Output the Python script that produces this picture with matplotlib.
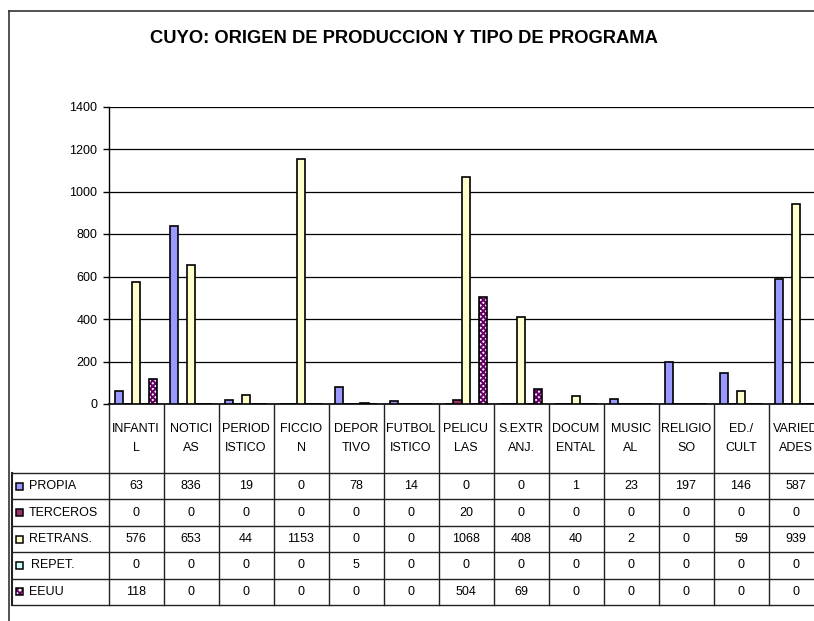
import numpy as np
import matplotlib.pyplot as plt
from matplotlib.patches import Rectangle

plt.rcParams['font.family'] = ['Liberation Sans', 'DejaVu Sans']
plt.rcParams['hatch.linewidth'] = 1.4

# data
categorias = ['INFANTI\nL', 'NOTICI\nAS', 'PERIOD\nISTICO', 'FICCIO\nN', 'DEPOR\nTIVO',
              'FUTBOL\nISTICO', 'PELICU\nLAS', 'S.EXTR\nANJ.', 'DOCUM\nENTAL', 'MUSIC\nAL',
              'RELIGIO\nSO', 'ED./\nCULT', 'VARIED\nADES']
series = ['PROPIA', 'TERCEROS', 'RETRANS.', 'REPET.', 'EEUU']
propia = [63, 836, 19, 0, 78, 14, 0, 0, 1, 23, 197, 146, 587]
terceros = [0, 0, 0, 0, 0, 0, 20, 0, 0, 0, 0, 0, 0]
retrans = [576, 653, 44, 1153, 0, 0, 1068, 408, 40, 2, 0, 59, 939]
repet = [0, 0, 0, 0, 5, 0, 0, 0, 0, 0, 0, 0, 0]
eeuu = [118, 0, 0, 0, 0, 0, 504, 69, 0, 0, 0, 0, 0]
valores = [propia, terceros, retrans, repet, eeuu]
colores = ['#9999FF', '#993366', '#FFFFCC', '#CCFFFF', 'white']

W, H = 814, 621
fig = plt.figure(figsize=(W / 100, H / 100), dpi=100)

def fx(px):
    return px / W

def fy(py):
    return 1 - py / H

# outer frame (only left and top visible)
fig.add_artist(plt.Line2D([fx(8.5), fx(8.5)], [fy(11), 0], color='#333333', lw=1.2))
fig.add_artist(plt.Line2D([fx(8.5), 1], [fy(11), fy(11)], color='#333333', lw=1.2))

fig.text(fx(404), fy(38.5), 'CUYO: ORIGEN DE PRODUCCION Y TIPO DE PROGRAMA',
         ha='center', va='center', fontsize=13.2, fontweight='bold')

# chart
cat_w = 55
x0, ytop, ybot = 108.5, 106.5, 404
ax = fig.add_axes([fx(x0), fy(ybot), fx(cat_w * 13), (ybot - ytop) / H])
n = len(categorias)
x = np.arange(n) + 0.5
bw = 0.153
for i, (vals, c) in enumerate(zip(valores, colores)):
    pos = x + (i - 2) * bw
    if series[i] == 'EEUU':
        ax.bar(pos, vals, bw, color='white', edgecolor='#660066', hatch='xxxxxx', lw=0, zorder=3)
        ax.bar(pos, vals, bw, fill=False, edgecolor='black', lw=1.2, zorder=4)
    else:
        ax.bar(pos, vals, bw, color=c, edgecolor='black', lw=1.2, zorder=3)

ax.set_xlim(0, n)
ax.set_ylim(0, 1400)
ax.set_yticks(np.arange(0, 1401, 200))
ax.yaxis.grid(True, color='black', lw=0.9)
ax.set_axisbelow(True)
ax.set_xticks([])
for s in ['top', 'right']:
    ax.spines[s].set_visible(False)
ax.spines['left'].set_linewidth(1.0)
ax.spines['bottom'].set_linewidth(1.2)
ax.tick_params(axis='y', length=4, width=1, pad=4, labelsize=9)

# data table
row_top = 473
row_h = 26.4
lab_x = 12
tab = fig.add_axes([0, 0, 1, 1])
tab.set_xlim(0, W)
tab.set_ylim(H, 0)
tab.axis('off')
lc = '#222222'
right = x0 + cat_w * n
col_edges = x0 + cat_w * np.arange(n + 1)
bottom = row_top + row_h * len(series)
for xe in col_edges:
    tab.plot([xe, xe], [ybot, bottom], color=lc, lw=1)
tab.plot([lab_x, lab_x], [row_top, bottom], color=lc, lw=1.5)
for r in range(len(series) + 1):
    yy = row_top + r * row_h
    tab.plot([lab_x, right], [yy, yy], color=lc, lw=1)

for j, cat in enumerate(categorias):
    cx = x0 + cat_w * (j + 0.5)
    tab.text(cx, (ybot + row_top) / 2, cat, ha='center', va='center',
             fontsize=9, linespacing=1.8)
    for r, vals in enumerate(valores):
        tab.text(cx, row_top + (r + 0.5) * row_h, str(vals[j]), ha='center',
                 va='center', fontsize=9)

for r, (name, c) in enumerate(zip(series, colores)):
    cy = row_top + (r + 0.5) * row_h
    if name == 'EEUU':
        tab.add_patch(Rectangle((15.5, cy - 3.5), 7, 7, facecolor='white', edgecolor='#660066',
                                hatch='xxxxx', lw=0))
        tab.add_patch(Rectangle((15.5, cy - 3.5), 7, 7, fill=False, edgecolor='black', lw=1.1))
    else:
        tab.add_patch(Rectangle((15.5, cy - 3.5), 7, 7, facecolor=c, edgecolor='black', lw=1.1))
    tab.text(29 if name != 'REPET.' else 31, cy, name, ha='left', va='center', fontsize=9)

fig.savefig('out.png', dpi=100)
